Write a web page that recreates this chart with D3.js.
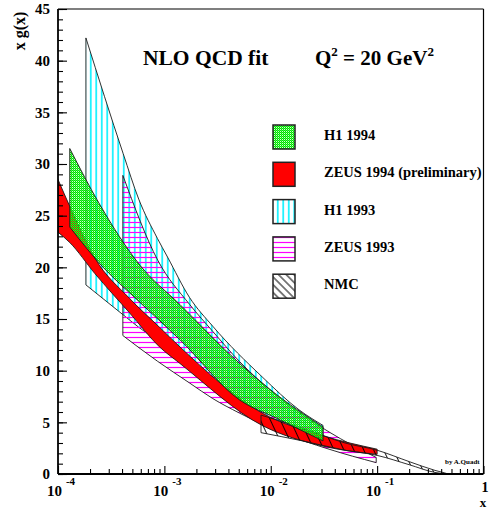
<!DOCTYPE html>
<html><head><meta charset="utf-8">
<script src="https://cdn.jsdelivr.net/npm/d3@7"></script>
<style>
html,body{margin:0;padding:0;background:#fff;}
svg{display:block;font-family:"Liberation Serif","Times New Roman",serif;font-weight:bold;}
</style></head><body>
<svg id="chart" width="489" height="510"></svg>
<script>
// ---------------- data ----------------
const h1_1993_x  = [1.83e-4, 4.1e-4, 5.74e-4, 8.6e-4, 1.07e-3, 1.72e-3, 2.85e-3, 8.3e-3, 1.85e-2, 3.1e-2];
const h1_1993_hi = [42.2, 31.0, 26.6, 22.8, 21.0, 17.1, 14.3, 9.4, 6.2, 4.7];
const h1_1993_lo = [18.3, 15.4, 14.2, 12.9, 12.1, 10.4, 8.6, 5.4, 4.1, 3.3];

const zeus_1993_x  = [4.07e-4, 8.65e-4, 1.73e-3, 2.85e-3, 5.07e-3, 1.2e-2, 3.53e-2, 0.098];
const zeus_1993_hi = [28.9, 20.7, 16.4, 13.8, 10.9, 7.4, 4.07, 1.6];
const zeus_1993_lo = [13.4, 10.9, 8.8, 7.3, 5.9, 4.1, 2.4, 1.1];

const zeus_1994_x  = [1e-4, 1.29e-4, 2.22e-4, 4.7e-4, 9e-4, 1.4e-3, 8.3e-3, 3.1e-2, 0.1];
const zeus_1994_hi = [28.5, 25.9, 20.9, 17.0, 14.2, 12.3, 5.9, 3.7, 2.4];
const zeus_1994_lo = [23.4, 22.4, 19.4, 15.6, 12.3, 10.7, 4.7, 2.7, 1.9];

const nmc_x  = [8.1e-3, 2e-2, 5e-2, 0.1, 0.2, 0.35, 0.45];
const nmc_hi = [5.7, 4.45, 3.0, 2.3, 1.2, 0.35, 0.05];
const nmc_lo = [4.0, 3.2, 2.3, 1.8, 0.9, 0.15, 0.0];

const h1_1994_x  = [1.29e-4, 2.4e-4, 5.9e-4, 1.4e-3, 5.1e-3, 1.13e-2, 3.1e-2];
const h1_1994_hi = [31.5, 26.3, 20.2, 16.4, 10.7, 7.7, 4.55];
const h1_1994_lo = [23.9, 20.5, 16.6, 13.0, 7.16, 5.4, 3.2];

const legendLabels = ["H1 1994", "ZEUS 1994 (preliminary)", "H1 1993", "ZEUS 1993", "NMC"];
const yMajorTicks = [0, 5, 10, 15, 20, 25, 30, 35, 40, 45];
const xDecades = [1e-4, 1e-3, 1e-2, 1e-1, 1];
const xDecadeExp = ["-4", "-3", "-2", "-1", ""];

// ---------------- layout ----------------
const svg = d3.select("#chart");
const L = 58, R = 483.5, T = 9, B = 474;
const x = d3.scaleLog().domain([1e-4, 1]).range([L, R]);
const y = d3.scaleLinear().domain([0, 45]).range([B, T]);

// patterns
const defs = svg.append("defs");
const pg = defs.append("pattern").attr("id", "pGreen").attr("width", 2).attr("height", 2)
  .attr("patternUnits", "userSpaceOnUse");
pg.append("rect").attr("x", 0).attr("y", 0).attr("width", 1).attr("height", 1).attr("fill", "#00e000");
pg.append("rect").attr("x", 1).attr("y", 1).attr("width", 1).attr("height", 1).attr("fill", "#00e000");
pg.append("rect").attr("x", 1).attr("y", 0).attr("width", 1).attr("height", 1).attr("fill", "#22f022").attr("opacity", 0.85);
pg.append("rect").attr("x", 0).attr("y", 1).attr("width", 1).attr("height", 1).attr("fill", "#66ff66").attr("opacity", 0.3);

const pc = defs.append("pattern").attr("id", "pCyan").attr("width", 5.5).attr("height", 10)
  .attr("patternUnits", "userSpaceOnUse");
pc.append("line").attr("x1", 2.75).attr("x2", 2.75).attr("y1", 0).attr("y2", 10)
  .attr("stroke", "#00f0ff").attr("stroke-width", 1.6);

const pm = defs.append("pattern").attr("id", "pMag").attr("width", 10).attr("height", 5)
  .attr("patternUnits", "userSpaceOnUse");
pm.append("line").attr("x1", 0).attr("x2", 10).attr("y1", 2.5).attr("y2", 2.5)
  .attr("stroke", "#ff00ff").attr("stroke-width", 1.2);

const pn = defs.append("pattern").attr("id", "pNmc").attr("width", 9).attr("height", 9)
  .attr("patternUnits", "userSpaceOnUse").attr("patternTransform", "rotate(-25)");
pn.append("line").attr("x1", 4.5).attr("x2", 4.5).attr("y1", 0).attr("y2", 9)
  .attr("stroke", "#000").attr("stroke-width", 0.9);

const pn2 = defs.append("pattern").attr("id", "pNmcLeg").attr("width", 5.5).attr("height", 5.5)
  .attr("patternUnits", "userSpaceOnUse").attr("patternTransform", "rotate(-45)");
pn2.append("line").attr("x1", 2.75).attr("x2", 2.75).attr("y1", 0).attr("y2", 5.5)
  .attr("stroke", "#000").attr("stroke-width", 1);

// clip
defs.append("clipPath").attr("id", "clip").append("rect")
  .attr("x", L).attr("y", T).attr("width", R - L).attr("height", B - T);

const area = d3.area()
  .x(d => x(d.x)).y0(d => y(d.lo)).y1(d => y(d.hi))
  .curve(d3.curveMonotoneX);

function band(xs, lo, hi) { return xs.map((v, i) => ({x: v, lo: lo[i], hi: hi[i]})); }

const bands = [
  {d: band(h1_1993_x, h1_1993_lo, h1_1993_hi), fill: "url(#pCyan)"},
  {d: band(zeus_1993_x, zeus_1993_lo, zeus_1993_hi), fill: "url(#pMag)"},
  {d: band(zeus_1994_x, zeus_1994_lo, zeus_1994_hi), fill: "#ff0000"},
  {d: band(nmc_x, nmc_lo, nmc_hi), fill: "url(#pNmc)"},
  {d: band(h1_1994_x, h1_1994_lo, h1_1994_hi), fill: "url(#pGreen)"}
];

const gB = svg.append("g").attr("clip-path", "url(#clip)");
bands.forEach(b => {
  gB.append("path").attr("d", area(b.d)).attr("fill", b.fill)
    .attr("stroke", "#1a1a1a").attr("stroke-width", 0.9).attr("stroke-linejoin", "round");
});

// frame
svg.append("line").attr("x1", L).attr("x2", R).attr("y1", T).attr("y2", T).attr("stroke", "#000").attr("stroke-width", 1.2);
svg.append("line").attr("x1", R).attr("x2", R).attr("y1", T).attr("y2", B).attr("stroke", "#000").attr("stroke-width", 1.2);

// y axis
const yMinor = d3.range(0, 46, 1);
svg.append("g").attr("transform", `translate(${L},0)`)
  .call(d3.axisLeft(y).tickValues(yMinor).tickSize(-5).tickFormat(""))
  .call(g => g.select(".domain").remove())
  .selectAll("line").attr("stroke", "#000").attr("stroke-width", 1.1);
const gy = svg.append("g").attr("transform", `translate(${L},0)`)
  .call(d3.axisLeft(y).tickValues(yMajorTicks).tickSize(-9).tickPadding(8).tickFormat(d3.format("d")));
gy.select(".domain").attr("stroke", "#000").attr("stroke-width", 1.8).attr("d", `M0,${T}V${B}`);
gy.selectAll("line").attr("stroke", "#000").attr("stroke-width", 1.1);
gy.selectAll("text").attr("font-family", "Liberation Serif, serif").attr("font-weight", "bold")
  .attr("font-size", 15).attr("fill", "#000");

// x axis
const xMinor = [];
for (let e = -4; e < 0; e++) for (let k = 2; k <= 9; k++) xMinor.push(k * Math.pow(10, e));
svg.append("g").attr("transform", `translate(0,${B})`)
  .call(d3.axisBottom(x).tickValues(xMinor).tickSize(-5).tickFormat(""))
  .call(g => g.select(".domain").remove())
  .selectAll("line").attr("stroke", "#000").attr("stroke-width", 1.1);
const gx = svg.append("g").attr("transform", `translate(0,${B})`)
  .call(d3.axisBottom(x).tickValues(xDecades).tickSize(-8).tickFormat(""));
gx.select(".domain").attr("stroke", "#000").attr("stroke-width", 1.8).attr("d", `M${L},0H${R}`);
gx.selectAll("line").attr("stroke", "#000").attr("stroke-width", 1.1);

xDecades.forEach((v, i) => {
  const last = xDecadeExp[i] === "";
  const t = svg.append("text").attr("x", x(v) + (last ? 1.5 : 3)).attr("y", last ? 492 : 496)
    .attr("text-anchor", "middle").attr("font-size", last ? 14 : 15);
  if (last) { t.text("1"); }
  else {
    t.append("tspan").text("10");
    t.append("tspan").attr("dx", 4).attr("dy", -11).attr("font-size", 11).text(xDecadeExp[i]);
  }
});

// axis titles
svg.append("text").attr("x", 483).attr("y", 507).attr("text-anchor", "middle")
  .attr("font-size", 13).text("x");
svg.append("text").attr("transform", "translate(25,31) rotate(-90)").attr("text-anchor", "middle")
  .attr("font-size", 16).text("x g(x)");

// title
svg.append("text").attr("x", 143).attr("y", 65).attr("font-size", 21.5).text("NLO QCD fit");
const q = svg.append("text").attr("x", 315).attr("y", 65).attr("font-size", 21);
q.append("tspan").text("Q");
q.append("tspan").attr("dy", -9).attr("font-size", 13).text("2");
q.append("tspan").attr("dy", 9).text(" = 20 GeV");
q.append("tspan").attr("dy", -9).attr("font-size", 13).text("2");

// legend
const legFills = ["url(#pGreen)", "#ff0000", "url(#pCyan)", "url(#pMag)", "url(#pNmcLeg)"];
legendLabels.forEach((lab, i) => {
  const top = 125 + i * 37.3;
  svg.append("rect").attr("x", 273).attr("y", top).attr("width", 22).attr("height", 24)
    .attr("fill", legFills[i]).attr("stroke", "#222").attr("stroke-width", 1.5);
  svg.append("text").attr("x", 324).attr("y", top + 15).attr("font-size", 14.5).text(lab);
});

svg.append("text").attr("x", 445).attr("y", 464).attr("font-size", 7).text("by A.Quadt");
</script>
</body></html>
